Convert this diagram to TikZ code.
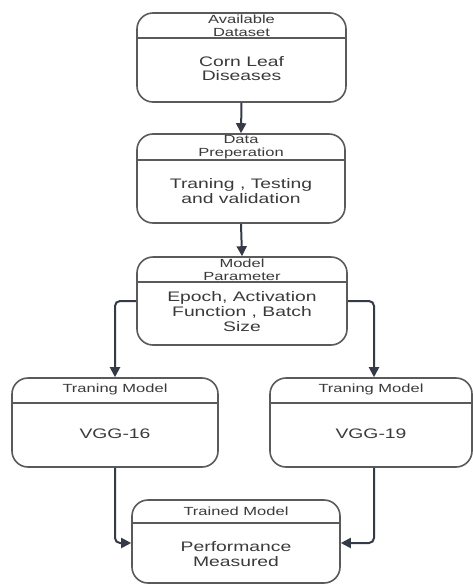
\documentclass[tikz,border=0pt]{standalone}
\usepackage{fontspec}
\setmainfont[FakeStretch=1.4]{Liberation Sans}
\usetikzlibrary{arrows.meta}
\definecolor{boxline}{HTML}{5A5A5A}
\definecolor{linkline}{HTML}{353B46}
\definecolor{txt}{HTML}{3A3A3A}
\tikzset{
  stage/.style={draw=boxline, line width=1.6pt, rounded corners=16pt,
    inner sep=0pt, fill=white},
  divider/.style={draw=boxline, line width=1.2pt},
  headtxt/.style={text=txt, align=center, inner sep=0pt,
    font=\fontsize{11.8}{12.8}\selectfont},
  bodytxt/.style={text=txt, align=center, inner sep=0pt,
    font=\fontsize{13.8}{14.6}\selectfont},
  link/.style={draw=linkline, line width=2pt, rounded corners=5pt,
    -{Triangle[length=10pt,width=10pt]}}
}
\begin{document}
\begin{tikzpicture}[x=1pt,y=-1pt]
\useasboundingbox (0,0) rectangle (473,584);

% stage frames
\node[stage, minimum width=209pt, minimum height=89pt] (b1) at (241.5,57.5) {};
\node[stage, minimum width=208pt, minimum height=89pt] (b2) at (241,178.5) {};
\node[stage, minimum width=210pt, minimum height=88pt] (b3) at (242,301) {};
\node[stage, minimum width=206pt, minimum height=89pt] (b4) at (115,422.5) {};
\node[stage, minimum width=202pt, minimum height=89pt] (b5) at (371,422.5) {};
\node[stage, minimum width=208pt, minimum height=83pt] (b6) at (236,541.5) {};

% header dividers
\draw[divider] (b1.west |- 0,38) -- (b1.east |- 0,38);
\draw[divider] (b2.west |- 0,160) -- (b2.east |- 0,160);
\draw[divider] (b3.west |- 0,282) -- (b3.east |- 0,282);
\draw[divider] (b4.west |- 0,403) -- (b4.east |- 0,403);
\draw[divider] (b5.west |- 0,403) -- (b5.east |- 0,403);
\draw[divider] (b6.west |- 0,523) -- (b6.east |- 0,523);

% headers
\node[headtxt] (h1) at (241.5,25.5) {Available\\Dataset};
\node[headtxt] (h2) at (241,147.5) {Data\\Preperation};
\node[headtxt] (h3) at (242,269.5) {Model\\Parameter};
\node[headtxt] (h4) at (115,389.5) {Traning Model};
\node[headtxt] (h5) at (371,389.5) {Traning Model};
\node[headtxt] (h6) at (236,511.5) {Trained Model};

% contents
\node[bodytxt] (t1) at (241.5,68.5) {Corn Leaf\\Diseases};
\node[bodytxt] (t2) at (241,191) {Traning , Testing\\and validation};
\node[bodytxt] (t3) at (242,311.5) {Epoch, Activation\\Function , Batch\\Size};
\node[bodytxt] (t4) at (115,433.5) {VGG-16};
\node[bodytxt] (t5) at (371,433.5) {VGG-19};
\node[bodytxt] (t6) at (236,554) {Performance\\Measured};

% routing points
\coordinate (lx) at (115,0);
\coordinate (rx) at (374,0);
\coordinate (my) at (0,543);

% connectors
\draw[link] (b1.south) -- (b2.north);
\draw[link] (b2.south) -- (b3.north);
\draw[link] (b3.west) -| (b4.north -| lx);
\draw[link] (b3.east) -| (b5.north -| rx);
\draw[link] (b4.south -| lx) |- (b6.west |- my);
\draw[link] (b5.south -| rx) |- (b6.east |- my);
\end{tikzpicture}
\end{document}
